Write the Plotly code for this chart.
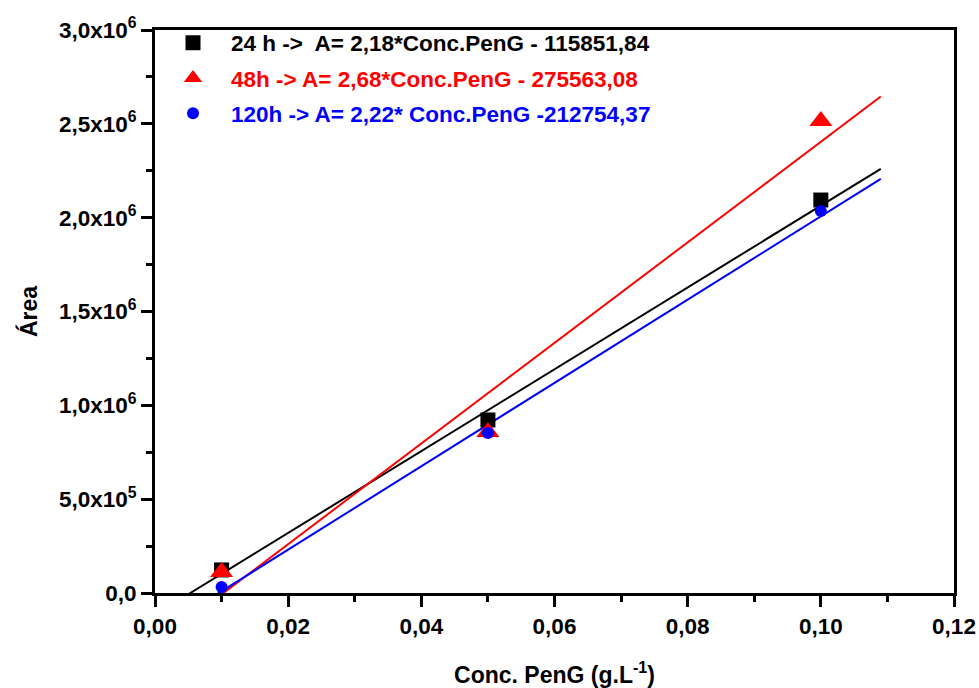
import numpy as np
import plotly.graph_objects as go

# ---- data ----
conc = [0.01, 0.05, 0.10]
area_24h = [1.23e5, 9.22e5, 2.094e6]
area_48h = [1.12e5, 8.58e5, 2.515e6]
area_120h = [0.32e5, 8.53e5, 2.035e6]

series_names = ["24 h ->  A= 2,18*Conc.PenG - 115851,84",
                "48h -> A= 2,68*Conc.PenG - 275563,08",
                "120h -> A= 2,22* Conc.PenG -212754,37"]
slopes = [2.18e7, 2.68e7, 2.22e7]
intercepts = [-115851.84, -275563.08, -212754.37]
fit_x_range = [0.0, 0.109]

x_tickvals = [0.00, 0.02, 0.04, 0.06, 0.08, 0.10, 0.12]
x_ticktext = ["0,00", "0,02", "0,04", "0,06", "0,08", "0,10", "0,12"]
y_tickvals = [0, 0.5e6, 1.0e6, 1.5e6, 2.0e6, 2.5e6, 3.0e6]
y_ticktext = ["0,0", "5,0x10<sup>5</sup>", "1,0x10<sup>6</sup>", "1,5x10<sup>6</sup>",
              "2,0x10<sup>6</sup>", "2,5x10<sup>6</sup>", "3,0x10<sup>6</sup>"]

colors = ["#000000", "#FF0000", "#0000FF"]
symbols = ["square", "triangle-up", "circle"]
sizes = [15, 20, 12]
all_y = [area_24h, area_48h, area_120h]

FONT = "Liberation Sans"

fig = go.Figure()

# fit lines
for i in range(3):
    xs = np.array(fit_x_range)
    ys = slopes[i] * xs + intercepts[i]
    fig.add_trace(go.Scatter(x=xs, y=ys, mode="lines",
                             line=dict(color=colors[i], width=2),
                             showlegend=False, hoverinfo="skip"))

# data markers
for i in range(3):
    fig.add_trace(go.Scatter(
        x=conc, y=all_y[i], mode="markers",
        marker=dict(symbol=symbols[i], size=sizes[i], color=colors[i], line=dict(width=0)),
        name=f"<b><span style='color:{colors[i]}'>{series_names[i]}</span></b>",
        legendgroup=f"g{i}",
    ))

axis_common = dict(
    showline=True, linecolor="black", linewidth=3, mirror=True,
    ticks="outside", ticklen=11, tickwidth=3, tickcolor="black",
    showgrid=False, zeroline=False, automargin=False,
    ticklabeloverflow="allow",
    tickfont=dict(family=FONT, size=22.5, color="black"),
)

fig.update_xaxes(
    range=[0, 0.12], tickvals=x_tickvals, ticktext=[f"<b>{t}</b>" for t in x_ticktext],
    minor=dict(dtick=0.01, tick0=0, ticks="outside", ticklen=6, tickwidth=2.5, tickcolor="black"),
    title=dict(text="<b>Conc. PenG (g.L<sup>-1</sup>)</b>", standoff=32,
               font=dict(family=FONT, size=23, color="black")),
    **axis_common,
)
fig.update_yaxes(
    range=[0, 3.0e6], tickvals=y_tickvals, ticktext=[f"<b>{t}</b>" for t in y_ticktext],
    minor=dict(dtick=0.25e6, tick0=0, ticks="outside", ticklen=6, tickwidth=2.5, tickcolor="black"),
    title=dict(text="<b>Área</b>", standoff=15,
               font=dict(family=FONT, size=23, color="black")),
    **axis_common,
)

fig.update_layout(
    width=979, height=688,
    margin=dict(l=155, r=25, t=30, b=95),
    paper_bgcolor="white", plot_bgcolor="white",
    showlegend=True,
    legend=dict(x=0.0, y=1.015, xanchor="left", yanchor="top",
                bgcolor="rgba(0,0,0,0)", traceorder="grouped", tracegroupgap=3,
                itemwidth=66,
                font=dict(family=FONT, size=22.5, color="black")),
)

fig.write_html("out.html",
               config={"displayModeBar": False},
               post_script="document.body.style.margin='0';document.body.style.overflow='hidden';")
